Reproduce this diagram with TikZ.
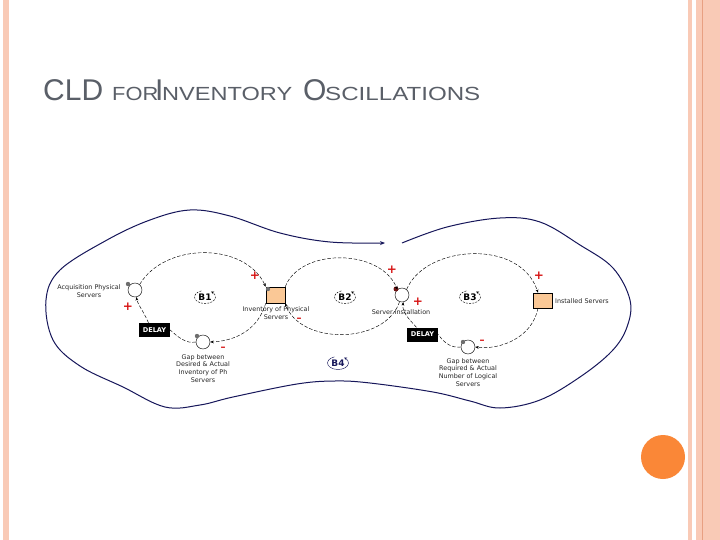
\documentclass[tikz,border=0pt]{standalone}
\usepackage{fontspec}
\setmainfont{DejaVu Sans}
\newfontfamily\ttlfont{Liberation Sans}
\usetikzlibrary{arrows.meta}
\definecolor{ttlgray}{RGB}{90,95,104}
\definecolor{navyline}{RGB}{22,22,90}
\definecolor{pinkband}{RGB}{249,202,182}
\definecolor{bandline}{RGB}{232,160,130}
\definecolor{orangedot}{RGB}{250,135,55}
\definecolor{peach}{RGB}{250,200,150}
\definecolor{signred}{RGB}{215,20,20}
\definecolor{dotgray}{RGB}{110,110,110}
\definecolor{dotmaroon}{RGB}{110,20,20}
\begin{document}
\begin{tikzpicture}[x=1pt,y=-1pt,
  ttl/.style={anchor=base west, inner sep=0, text=ttlgray},
  valve/.style={circle, draw, line width=0.45pt, minimum size=14pt, inner sep=0},
  dotg/.style={circle, fill=dotgray, minimum size=4.4pt, inner sep=0},
  dotm/.style={circle, fill=dotmaroon, minimum size=5pt, inner sep=0},
  stock/.style={draw, fill=peach, minimum width=19pt, minimum height=16pt, inner sep=0, line width=0.5pt},
  delaybox/.style={fill=black, text=white, font=\bfseries\fontsize{6.6}{6.6}\selectfont, minimum width=31pt, minimum height=14pt, inner sep=0},
  lab/.style={font=\fontsize{6.4}{7.8}\selectfont, align=center, inner sep=0, text=black!85},
  plus/.style={text=signred, font=\bfseries\fontsize{12}{12}\selectfont, inner sep=0},
  minus/.style={text=signred, font=\bfseries\fontsize{10}{10}\selectfont, inner sep=0},
  cld/.style={draw, line width=0.45pt, dash pattern=on 3.5pt off 1.8pt, -{Stealth[length=3.5pt,width=2.8pt]}},
  cldn/.style={draw, line width=0.45pt, dash pattern=on 3.5pt off 1.8pt},
  looplab/.style={font=\bfseries\fontsize{9}{9}\selectfont, inner sep=0},
  loopmk/.style={line width=0.45pt, dash pattern=on 2pt off 1.2pt, -{Stealth[length=3pt,width=2.6pt]}},
  outer/.style={draw=navyline, line width=1pt, -{Stealth[length=5pt,width=4pt]}}
]
\useasboundingbox (0,0) rectangle (720,540);
\fill[white] (0,0) rectangle (720,540);
% borders
\fill[pinkband] (3,0) rectangle (9,540);
\fill[pinkband] (688,0) rectangle (692,540);
\fill[pinkband] (696,0) rectangle (720,540);
\draw[bandline, line width=0.8pt] (702,0) -- (702,540);
\fill[orangedot] (663,457) circle[radius=22];

% title
\node[ttl, font=\ttlfont\fontsize{30}{30}\selectfont] (tC) at (43,101) {CLD};
\node[ttl, font=\ttlfont\fontsize{19}{19}\selectfont] (tF) at (112,101) {\scalebox{1.15}[1]{FOR}};
\node[ttl, font=\ttlfont\fontsize{30}{30}\selectfont] (tI) at (155,101) {I};
\node[ttl, font=\ttlfont\fontsize{19}{19}\selectfont] (tN) at (162,101) {\scalebox{1.24}[1]{NVENTORY}};
\node[ttl, font=\ttlfont\fontsize{30}{30}\selectfont] (tO) at (303,101) {O};
\node[ttl, font=\ttlfont\fontsize{19}{19}\selectfont] (tS) at (325,101) {\scalebox{1.27}[1]{SCILLATIONS}};

% outer loop
\coordinate (oS) at (402,243);
\coordinate (oE) at (385,243);
\draw[outer] plot[smooth, tension=0.6] coordinates {(oS) (447,227) (500,218) (540,222) (580,245) (613,268) (630,300) (627,327) (612,351) (580,377) (540,400) (500,408) (470,401) (433,392) (370,383) (335,381) (297,384) (233,397) (200,405) (165,407) (123,387) (80,366) (53,340) (46,300) (60,270) (107,240) (150,220) (190,210) (230,216) (280,233) (330,242) (oE)};

% nodes
\node[valve] (acq) at (135,290) {};
\node[dotg] (acqd) at (128,284) {};
\node[lab] (acqL) at (89,291) {Acquisition Physical\\Servers};

\node[stock] (inv) at (275.5,295) {};
\node[dotg] (invd) at (268,289) {};
\node[lab] (invL) at (276,313) {Inventory of Physical\\Servers};

\node[valve] (srv) at (402,295) {};
\node[dotm] (srvd) at (396,289) {};
\node[lab] (srvL) at (401,312) {Server Installation};

\node[stock, minimum height=15pt] (inst) at (542.5,300.5) {};
\node[lab, anchor=west] (instL) at (555,301) {Installed Servers};

\node[valve] (gap1) at (203,342) {};
\node[dotg] (gap1d) at (197,336) {};
\node[lab, anchor=north] (gap1L) at (203,354) {Gap between\\Desired \& Actual\\Inventory of Ph\\Servers};

\node[valve] (gap2) at (468,347) {};
\node[dotg] (gap2d) at (463,342) {};
\node[lab, anchor=north] (gap2L) at (468,358) {Gap between\\Required \& Actual\\Number of Logical\\Servers};

\node[delaybox] (dl1) at (154.5,330) {DELAY};
\node[delaybox] (dl2) at (422.5,334.5) {DELAY};

% connectors
\draw[cld] (acq.50) .. controls (165,242) and (245,242) .. (inv.north west);
\draw[cld] (inv.south west) .. controls (258,330) and (235,341) .. (gap1.east);
\draw[cldn] (gap1.west) .. controls (186,344) and (178,337) .. (dl1.east);
\draw[cld] (dl1.130) .. controls (144,312) and (138,305) .. (acq.-80);

\draw[cld] (inv.north east) .. controls (300,248) and (380,248) .. (srv.130);
\draw[cld] (srv.-110) .. controls (385,345) and (300,345) .. (inv.south east);

\draw[cld] (srv.50) .. controls (425,245) and (520,238) .. (inst.120);
\draw[cld] (inst.240) .. controls (532,338) and (500,350) .. (gap2.east);
\draw[cldn] (gap2.west) .. controls (452,348) and (445,344) .. (dl2.east);
\draw[cld] (dl2.130) .. controls (408,318) and (402,312) .. (srv.-80);

% polarity signs
\node[plus] (p1) at (128,307) {+};
\node[plus] (p2) at (255,276) {+};
\node[plus] (p3) at (392,270) {+};
\node[plus] (p4) at (418,302) {+};
\node[plus] (p5) at (539,276) {+};
\node[minus] (m1) at (223,349) {–};
\node[minus] (m2) at (299,320) {–};
\node[minus] (m3) at (482,342) {–};

% loop markers
\node[looplab] (b1) at (205,297) {B1};
\draw[loopmk] ([shift={(205,297)}]-110:10.5 and 6.5) arc[start angle=-110, end angle=-415, x radius=10.5, y radius=6.5];
\node[looplab] (b2) at (345,297) {B2};
\draw[loopmk] ([shift={(345,297)}]-110:10.5 and 6.5) arc[start angle=-110, end angle=-415, x radius=10.5, y radius=6.5];
\node[looplab] (b3) at (470,297) {B3};
\draw[loopmk] ([shift={(470,297)}]-110:10.5 and 6.5) arc[start angle=-110, end angle=-415, x radius=10.5, y radius=6.5];
\node[looplab, text=navyline] (b4) at (338,363) {B4};
\draw[loopmk, draw=navyline, solid] ([shift={(338,363)}]-110:10.5 and 6.5) arc[start angle=-110, end angle=-415, x radius=10.5, y radius=6.5];
\end{tikzpicture}
\end{document}
